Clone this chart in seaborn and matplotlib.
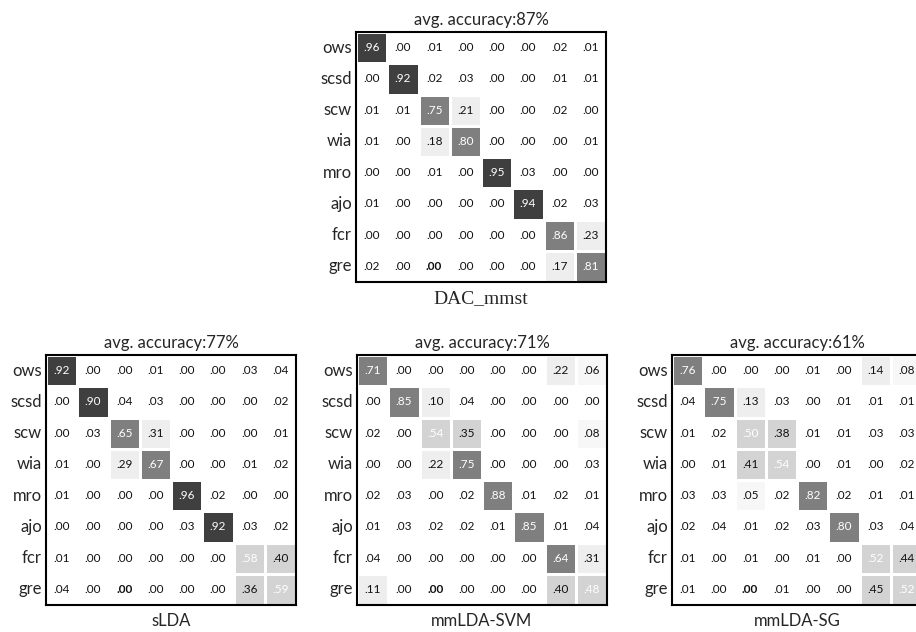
import numpy as np
import matplotlib
matplotlib.use("Agg")
import matplotlib.pyplot as plt
from matplotlib.colors import ListedColormap, BoundaryNorm
import seaborn as sns

classes = ["ows", "scsd", "scw", "wia", "mro", "ajo", "fcr", "gre"]

dac_mmst = [
    [.96, .00, .01, .00, .00, .00, .02, .01],
    [.00, .92, .02, .03, .00, .00, .01, .01],
    [.01, .01, .75, .21, .00, .00, .02, .00],
    [.01, .00, .18, .80, .00, .00, .00, .01],
    [.00, .00, .01, .00, .95, .03, .00, .00],
    [.01, .00, .00, .00, .00, .94, .02, .03],
    [.00, .00, .00, .00, .00, .00, .86, .23],
    [.02, .00, .00, .00, .00, .00, .17, .81],
]
slda = [
    [.92, .00, .00, .01, .00, .00, .03, .04],
    [.00, .90, .04, .03, .00, .00, .00, .02],
    [.00, .03, .65, .31, .00, .00, .00, .01],
    [.01, .00, .29, .67, .00, .00, .01, .02],
    [.01, .00, .00, .00, .96, .02, .00, .00],
    [.00, .00, .00, .00, .03, .92, .03, .02],
    [.01, .00, .00, .00, .00, .00, .58, .40],
    [.04, .00, .00, .00, .00, .00, .36, .59],
]
mmlda_svm = [
    [.71, .00, .00, .00, .00, .00, .22, .06],
    [.00, .85, .10, .04, .00, .00, .00, .00],
    [.02, .00, .54, .35, .00, .00, .00, .08],
    [.00, .00, .22, .75, .00, .00, .00, .03],
    [.02, .03, .00, .02, .88, .01, .02, .01],
    [.01, .03, .02, .02, .01, .85, .01, .04],
    [.04, .00, .00, .00, .00, .00, .64, .31],
    [.11, .00, .00, .00, .00, .00, .40, .48],
]
mmlda_sg = [
    [.76, .00, .00, .00, .01, .00, .14, .08],
    [.04, .75, .13, .03, .00, .01, .01, .01],
    [.01, .02, .50, .38, .01, .01, .03, .03],
    [.00, .01, .41, .54, .00, .01, .00, .02],
    [.03, .03, .05, .02, .82, .02, .01, .01],
    [.02, .04, .01, .02, .03, .80, .03, .04],
    [.01, .00, .01, .00, .01, .00, .52, .44],
    [.01, .00, .00, .01, .00, .00, .45, .52],
]
accuracies = [87, 77, 71, 61]
names = ["DAC_mmst", "sLDA", "mmLDA-SVM", "mmLDA-SG"]

sns.set_theme(style="white")
plt.rcParams["font.family"] = ["Lato", "DejaVu Sans"]

# grey levels used by the paper (stepped, not continuous)
cmap = ListedColormap(["#ffffff", "#f7f7f7", "#eeeeee", "#d3d3d3", "#7f7f7f", "#3f3f3f"])
norm = BoundaryNorm([0, 0.05, 0.10, 0.33, 0.60, 0.89, 1.0], cmap.N)

fig = plt.figure(figsize=(9.16, 6.32), dpi=100)
W, H = 250 / 916, 250 / 632
boxes = [
    [356 / 916, (632 - 282) / 632, W, H],
    [46 / 916, (632 - 605) / 632, W, H],
    [357 / 916, (632 - 605) / 632, W, H],
    [672 / 916, (632 - 605) / 632, W, H],
]

for mat, acc, name, box in zip([dac_mmst, slda, mmlda_svm, mmlda_sg], accuracies, names, boxes):
    ax = fig.add_axes(box)
    vals = np.array(mat)
    labels = np.vectorize(lambda v: f"{v:.2f}"[1:])(vals)
    sns.heatmap(vals, ax=ax, cmap=cmap, norm=norm, annot=labels, fmt="",
                cbar=False, linewidths=1, linecolor="white",
                xticklabels=False, yticklabels=classes,
                annot_kws={"fontsize": 8.5})
    flat = vals.ravel()
    for i, t in enumerate(ax.texts):
        t.set_color("white" if flat[i] >= 0.46 else "#111111")
        if i == 7 * 8 + 2:
            t.set_fontweight("bold")
    for sp in ax.spines.values():
        sp.set_visible(True)
        sp.set_color("black")
        sp.set_linewidth(1.5)
    ax.tick_params(axis="y", length=0, pad=3, labelsize=12, rotation=0)
    ax.set_title(f"avg. accuracy:{acc}%", fontsize=12, pad=5)
    if name == "DAC_mmst":
        ax.set_xlabel(name, fontsize=14, family="Liberation Serif", labelpad=6)
    else:
        ax.set_xlabel(name, fontsize=12, labelpad=6)

fig.savefig("out.png", dpi=100)
